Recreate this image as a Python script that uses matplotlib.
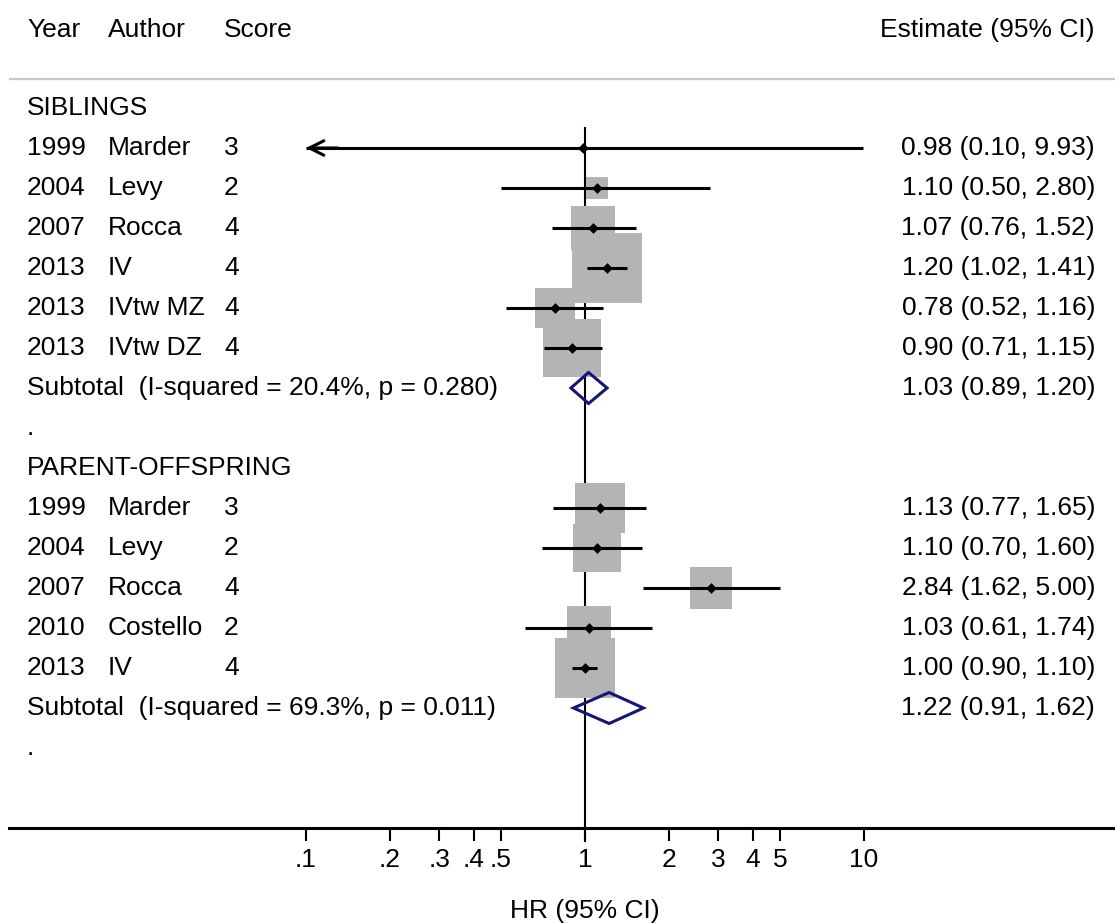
import numpy as np
import matplotlib
matplotlib.use("Agg")
import matplotlib.pyplot as plt
import matplotlib.transforms as mtransforms
from matplotlib.patches import Polygon

plt.rcParams['font.family'] = ['Liberation Sans', 'DejaVu Sans']

# ---------------- data ----------------
group_names = ["SIBLINGS", "PARENT-OFFSPRING"]

sib_years = ["1999", "2004", "2007", "2013", "2013", "2013"]
sib_authors = ["Marder", "Levy", "Rocca", "IV", "IVtw MZ", "IVtw DZ"]
sib_scores = ["3", "2", "4", "4", "4", "4"]
sib_hr = [0.98, 1.10, 1.07, 1.20, 0.78, 0.90]
sib_lo = [0.10, 0.50, 0.76, 1.02, 0.52, 0.71]
sib_hi = [9.93, 2.80, 1.52, 1.41, 1.16, 1.15]
sib_weight = [0.2, 3.7, 15.3, 40.6, 13.3, 27.0]
sib_sub = (1.03, 0.89, 1.20)
sib_het = "Subtotal  (I-squared = 20.4%, p = 0.280)"

par_years = ["1999", "2004", "2007", "2010", "2013"]
par_authors = ["Marder", "Levy", "Rocca", "Costello", "IV"]
par_scores = ["3", "2", "4", "2", "4"]
par_hr = [1.13, 1.10, 2.84, 1.03, 1.00]
par_lo = [0.77, 0.70, 1.62, 0.61, 0.90]
par_hi = [1.65, 1.60, 5.00, 1.74, 1.10]
par_weight = [20.2, 19.4, 14.8, 16.3, 29.3]
par_sub = (1.22, 0.91, 1.62)
par_het = "Subtotal  (I-squared = 69.3%, p = 0.011)"

tick_values = [0.1, 0.2, 0.3, 0.4, 0.5, 1, 2, 3, 4, 5, 10]
tick_labels = [".1", ".2", ".3", ".4", ".5", "1", "2", "3", "4", "5", "10"]

# ---------------- layout ----------------
W, H = 1115, 923
DEC = 279.0      # px per decade
X1 = 585.0       # px of HR = 1
ROW0 = 108.0     # y px of first row
ROWH = 40.0
AXIS_Y = 828.0
FS = 19

fig = plt.figure(figsize=(W / 100, H / 100), dpi=100)
ax = fig.add_axes([0, 0, 1, 1])
ax.set_xscale('log')
ax.set_xlim(10 ** (-X1 / DEC), 10 ** ((W - X1) / DEC))
ax.set_ylim(H, 0)
ax.minorticks_off()
for s in ['top', 'left', 'right']:
    ax.spines[s].set_visible(False)
ax.set_yticks([])

trans = mtransforms.blended_transform_factory(ax.transAxes, ax.transData)

def fx(px):
    return px / W

COL_YEAR, COL_AUTH, COL_SCORE = fx(27), fx(108), fx(224)
COL_EST = fx(1095)

# header
ax.text(COL_YEAR, 30, "Year", transform=trans, fontsize=FS, va='center')
ax.text(COL_AUTH, 30, "Author", transform=trans, fontsize=FS, va='center')
ax.text(COL_SCORE, 30, "Score", transform=trans, fontsize=FS, va='center')
ax.text(COL_EST, 30, "Estimate (95% CI)", transform=trans, fontsize=FS,
        va='center', ha='right')
ax.plot([fx(9), 1], [79, 79], transform=trans, color='#c8c8c8', lw=1.6,
        solid_capstyle='butt')

def fmt(h, l, u):
    return f"{h:.2f} ({l:.2f}, {u:.2f})"

def ypos(i):
    return ROW0 + ROWH * i

groups = [
    (group_names[0], sib_years, sib_authors, sib_scores, sib_hr, sib_lo, sib_hi, sib_weight, sib_sub, sib_het),
    (group_names[1], par_years, par_authors, par_scores, par_hr, par_lo, par_hi, par_weight, par_sub, par_het),
]

# vertical null line
ax.plot([1, 1], [ypos(0.5), AXIS_Y + 13], color='black', lw=1.5, zorder=1)

i = 0
for name, yrs, auths, scs, hr, lo, hi, wt, sub, het in groups:
    ax.text(COL_YEAR, ypos(i), name, transform=trans, fontsize=FS, va='center')
    i += 1
    for k in range(len(hr)):
        y = ypos(i)
        ax.text(COL_YEAR, y, yrs[k], transform=trans, fontsize=FS, va='center')
        ax.text(COL_AUTH, y, auths[k], transform=trans, fontsize=FS, va='center')
        ax.text(COL_SCORE, y, scs[k], transform=trans, fontsize=FS, va='center')
        ax.text(COL_EST, y, fmt(hr[k], lo[k], hi[k]), transform=trans,
                fontsize=FS, va='center', ha='right')
        side_px = 11.0 * np.sqrt(wt[k])
        ax.scatter([hr[k]], [y], marker='s', s=(side_px * 0.72) ** 2,
                   color='#b4b4b4', linewidths=0, zorder=2)
        ax.plot([lo[k], hi[k]], [y, y], color='black', lw=2.2, zorder=3,
                solid_capstyle='butt')
        if lo[k] <= 0.1:
            ax.annotate('', xy=(lo[k], y), xytext=(lo[k] * 1.3, y),
                        arrowprops=dict(arrowstyle='->', lw=2.2, color='black',
                                        mutation_scale=26, shrinkA=0, shrinkB=0),
                        zorder=3)
        ax.scatter([hr[k]], [y], marker='D', s=30, color='black', zorder=4,
                   linewidths=0)
        i += 1
    y = ypos(i)
    ax.text(COL_YEAR, y, het, transform=trans, fontsize=FS, va='center')
    ax.text(COL_EST, y, fmt(*sub), transform=trans, fontsize=FS,
            va='center', ha='right')
    h, l, u = sub
    dia = Polygon([[l, y], [h, y - 15.5], [u, y], [h, y + 15.5]], closed=True,
                  fill=False, edgecolor='#161678', lw=2.2, zorder=5)
    ax.add_patch(dia)
    i += 1
    ax.text(COL_YEAR, ypos(i), ".", transform=trans, fontsize=FS, va='center')
    i += 1

# x axis
ax.spines['bottom'].set_position(('data', AXIS_Y))
ax.spines['bottom'].set_linewidth(2.2)
ax.spines['bottom'].set_bounds(10 ** ((9 - X1) / DEC), ax.get_xlim()[1])
ax.set_xticks(tick_values)
ax.set_xticklabels(tick_labels, fontsize=FS)
ax.tick_params(axis='x', direction='out', length=9.5, width=1.5, pad=5)
ax.text(1, 911, "HR (95% CI)", fontsize=FS, ha='center', va='center')

fig.savefig("out.png", dpi=100)
